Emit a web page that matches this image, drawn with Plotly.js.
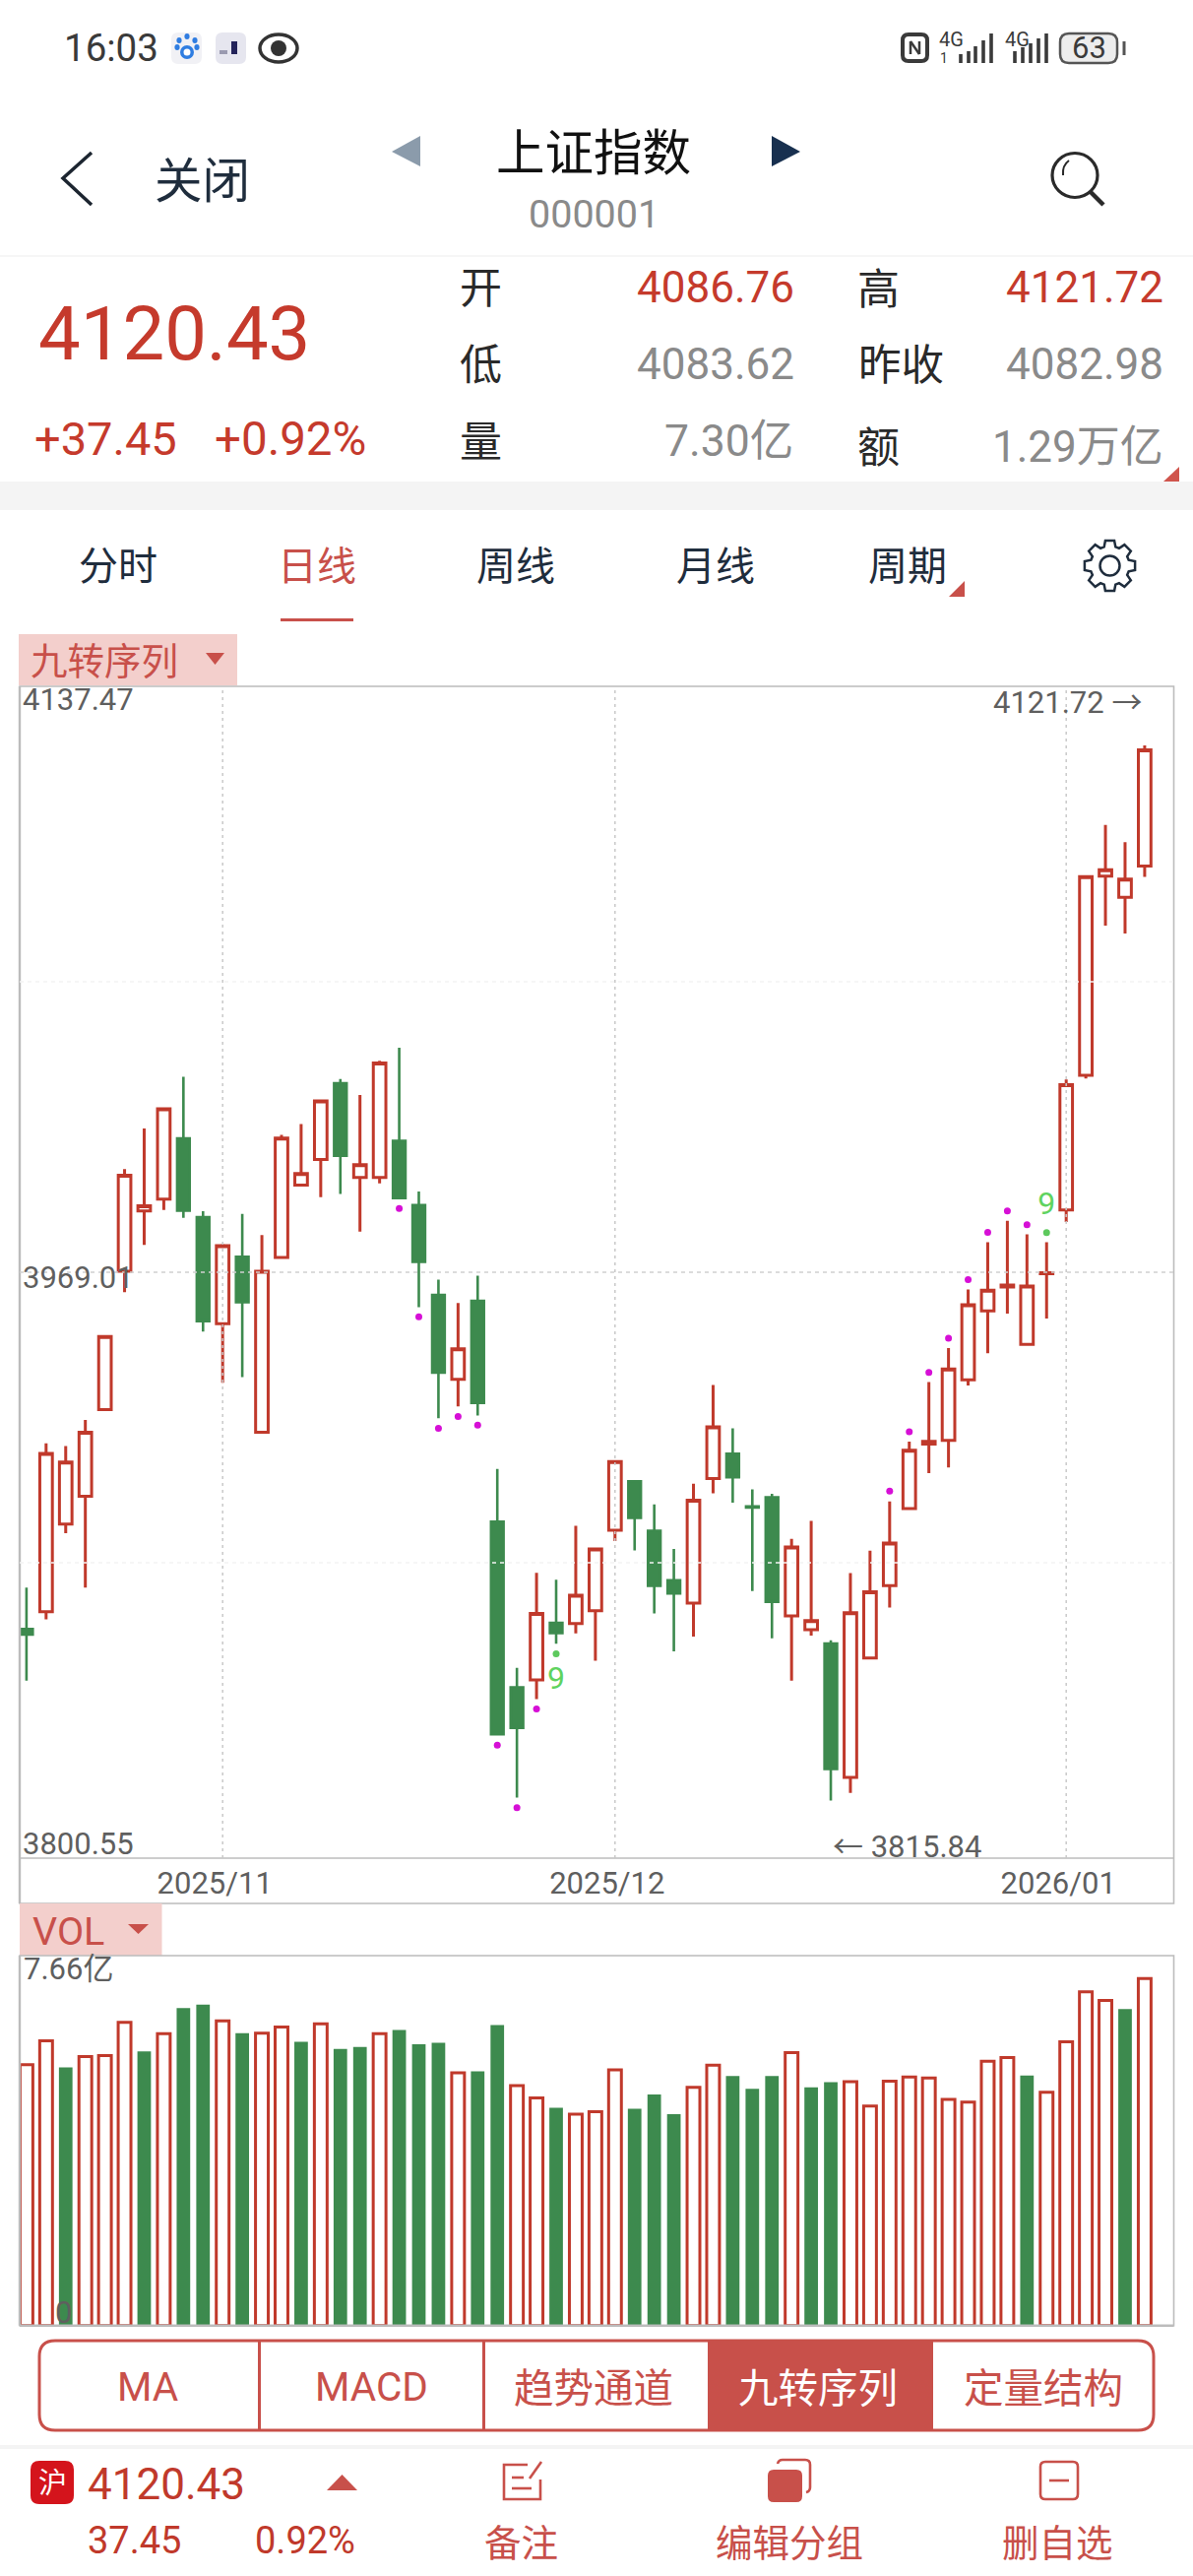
<!DOCTYPE html>
<html>
<head>
<meta charset="utf-8">
<script src="https://cdn.plot.ly/plotly-3.0.1.min.js"></script>
<style>html,body{margin:0;padding:0;background:#fff;overflow:hidden}#chart{width:1212px;height:2616px}</style>
</head>
<body>
<div id="chart"></div>
<script>
// ---------- data ----------
const dates = ["2025-10-20","2025-10-21","2025-10-22","2025-10-23","2025-10-24","2025-10-27","2025-10-28","2025-10-29","2025-10-30","2025-10-31",
"2025-11-03","2025-11-04","2025-11-05","2025-11-06","2025-11-07","2025-11-10","2025-11-11","2025-11-12","2025-11-13","2025-11-14",
"2025-11-17","2025-11-18","2025-11-19","2025-11-20","2025-11-21","2025-11-24","2025-11-25","2025-11-26","2025-11-27","2025-11-28",
"2025-12-01","2025-12-02","2025-12-03","2025-12-04","2025-12-05","2025-12-08","2025-12-09","2025-12-10","2025-12-11","2025-12-12",
"2025-12-15","2025-12-16","2025-12-17","2025-12-18","2025-12-19","2025-12-22","2025-12-23","2025-12-24","2025-12-25","2025-12-26",
"2025-12-29","2025-12-30","2025-12-31","2026-01-05","2026-01-06","2026-01-07","2026-01-08","2026-01-09"];
const opens = [3865.6,3870.6,3896.0,3904.1,3929.2,3969.3,3986.8,3990.2,4007.8,3985.0,
3954.1,3973.5,3922.6,3973.3,3994.3,4001.7,4023.8,3996.5,3996.5,4007.1,
3988.5,3962.4,3938.0,3960.7,3896.7,3848.7,3850.8,3867.4,3867.2,3870.9,
3894.2,3908.4,3894.1,3879.7,3873.1,3909.2,3916.4,3901.1,3903.8,3869.4,
3865.4,3861.4,3822.6,3857.2,3878.2,3900.5,3919.2,3920.3,3937.8,3957.8,
3964.7,3948.1,3968.6,3987.1,4026.1,4083.8,4077.7,4086.76];
const highs = [3877.6,3919.4,3918.6,3926.2,3950.4,3998.9,4010.7,4016.4,4025.7,3986.7,
3977.2,3985.9,3979.8,4008.8,4012.0,4018.9,4025.0,4020.4,4030.3,4034.1,
3992.4,3966.9,3960.1,3968.0,3912.0,3854.3,3881.9,3879.9,3895.5,3888.8,
3914.2,3908.5,3901.7,3888.8,3907.7,3936.3,3923.8,3906.1,3904.8,3891.7,
3896.9,3862.3,3881.8,3888.3,3902.6,3919.9,3937.2,3947.0,3964.0,3977.7,
3983.9,3980.0,3977.7,4024.9,4083.8,4098.7,4093.7,4121.72];
const lows = [3850.6,3868.4,3893.4,3877.6,3929.2,3963.2,3976.9,3987.1,3984.8,3951.8,
3937.0,3938.6,3922.5,3973.2,3994.1,3990.8,3991.7,3980.8,3994.8,3990.3,
3958.9,3926.7,3930.1,3927.5,3835.1,3816.7,3845.3,3861.3,3864.3,3856.4,
3891.1,3888.4,3870.1,3859.1,3863.4,3904.9,3902.2,3876.6,3862.9,3850.6,
3863.7,3815.84,3818.1,3856.9,3871.8,3900.4,3910.8,3912.4,3936.2,3945.5,
3957.0,3948.0,3955.6,3983.6,4025.2,4069.5,4067.2,4083.62];
const closes = [3864.0,3916.5,3914.0,3922.6,3950.4,3997.1,3988.3,4016.4,3986.9,3954.8,
3976.7,3960.3,3969.3,4007.9,3997.6,4018.7,4002.8,4000.2,4029.7,3990.5,
3972.0,3939.9,3946.8,3931.1,3835.1,3836.9,3870.1,3864.4,3875.4,3888.8,
3914.1,3897.8,3878.1,3875.9,3902.9,3924.2,3909.6,3900.8,3873.5,3889.4,
3868.0,3825.0,3870.3,3876.4,3890.5,3917.4,3920.0,3941.0,3959.6,3963.8,
3965.3,3965.0,3968.9,4023.4,4083.7,4085.7,4082.98,4120.43];
// volume, in units of 亿
const volumes = [5.49,5.99,5.43,5.66,5.68,6.38,5.77,6.14,6.68,6.75,
6.41,6.15,6.15,6.28,5.97,6.35,5.82,5.86,6.14,6.22,
5.92,5.95,5.32,5.35,6.32,5.05,4.79,4.58,4.45,4.50,
5.38,4.56,4.86,4.45,5.01,5.48,5.25,4.98,5.25,5.74,
5.01,5.12,5.13,4.62,5.14,5.23,5.21,4.76,4.70,5.56,
5.64,5.26,4.91,5.97,7.02,6.84,6.66,7.30];
const volumeUp = [1,1,0,1,1,1,0,1,0,0, 1,0,1,1,0,1,0,0,1,0, 0,0,1,0,0,1,1,0,1,1,
1,0,0,0,1,1,0,0,0,1, 0,0,1,1,1,1,1,1,1,1, 1,0,1,1,1,1,0,1];
// nine-turn sequence dots
const dotDates = ["2025-11-14","2025-11-17","2025-11-18","2025-11-19","2025-11-20","2025-11-21","2025-11-24","2025-11-25",
"2025-12-19","2025-12-22","2025-12-23","2025-12-24","2025-12-25","2025-12-26","2025-12-29","2025-12-30"];
const dotValues = [3987.5,3956.1,3923.8,3927.2,3924.7,3831.9,3813.8,3842.4,
3905.6,3922.8,3940.0,3949.9,3966.9,3980.6,3986.8,3982.8];
const nineDates = ["2025-11-26","2025-12-31"];
const nineDotValues = [3858.4,3980.5];
const nineLabelValues = [3850.5,3988.0];
const nineLabels = ["9","9"];
const monthTickDates = ["2025-11-03","2025-12-01","2026-01-05"];
const monthTickLabels = ["2025/11","2025/12","2026/01"];
const priceTickValues = [4137.47,3969.01,3800.55];
const priceTickLabels = ["4137.47","3969.01","3800.55"];
const priceFaintValues = [4053.24,3884.78];
const volumeTickValues = [7.66,0];
const volumeTickLabels = ["7.66亿","0"];

// ---------- styles / page geometry ----------
const W=1212,H=2616;
const RED='#c0392b', SOFT='#c8504a', GREEN='#3d8a4e', NAVY='#1f2d3d', GREY='#8a8a8a', AXIS='#5f5f5f', FRAME='#bcbcbc';
const NUM='Roboto, "Noto Sans CJK SC", sans-serif', CJK='"Noto Sans CJK SC", sans-serif';
const fx=x=>x/W, fy=y=>1-y/H;
const PL=20,PR=1192.5,MT=697,MB=1887,AB=1933,VT=1986,VB=2361.7;
const pitch=19.93, x0=26.9;
const xRange=[(PL-x0)/pitch,(PR-x0)/pitch];

const shapes=[], anns=[];
const T=(text,x,y,size,color,anchor,family,extra)=>anns.push(Object.assign({text,x:fx(x),y:fy(y),xref:'paper',yref:'paper',
  xanchor:anchor||'center',yanchor:'middle',showarrow:false,borderpad:0,font:{size,color,family:family||NUM}},extra||{}));
const R=(x1,y1,x2,y2,fill,line,lw)=>shapes.push({type:'rect',xref:'paper',yref:'paper',x0:fx(x1),x1:fx(x2),y0:fy(y1),y1:fy(y2),
  fillcolor:fill||'rgba(0,0,0,0)',line:{color:line||'rgba(0,0,0,0)',width:lw||0}});
const L=(x1,y1,x2,y2,color,w,dash)=>shapes.push({type:'line',xref:'paper',yref:'paper',x0:fx(x1),x1:fx(x2),y0:fy(y1),y1:fy(y2),line:{color,width:w,dash:dash||'solid'}});
const C=(cx,cy,rx,ry,fill,line,lw)=>shapes.push({type:'circle',xref:'paper',yref:'paper',x0:fx(cx-rx),x1:fx(cx+rx),y0:fy(cy-ry),y1:fy(cy+ry),
  fillcolor:fill||'rgba(0,0,0,0)',line:{color:line||'rgba(0,0,0,0)',width:lw||0}});
const PATH=(d,fill,line,lw)=>shapes.push({type:'path',xref:'paper',yref:'paper',path:d,fillcolor:fill||'rgba(0,0,0,0)',line:{color:line||'rgba(0,0,0,0)',width:lw||0}});
const P=(x,y)=>fx(x)+','+fy(y);
const poly=(pts,close)=>'M'+pts.map(p=>P(p[0],p[1])).join('L')+(close?'Z':'');
const rr=(x1,y1,x2,y2,r)=>'M'+P(x1+r,y1)+'L'+P(x2-r,y1)+'Q'+P(x2,y1)+' '+P(x2,y1+r)+'L'+P(x2,y2-r)+'Q'+P(x2,y2)+' '+P(x2-r,y2)+'L'+P(x1+r,y2)+'Q'+P(x1,y2)+' '+P(x1,y2-r)+'L'+P(x1,y1+r)+'Q'+P(x1,y1)+' '+P(x1+r,y1)+'Z';

// status bar
T('16:03',64,49,38.5,'#3a3a3a','left');
PATH(rr(174,33,205,65,7),'#f1f1f5');
[[182,41],[190,37],[198,41],[180,48],[200,48]].forEach(p=>C(p[0],p[1],2.6,3,'#2f7de1'));
C(190,53,7,7,'#2f7de1');C(190,53,3.5,3.5,'#ffffff');
PATH(rr(219,33,250,65,7),'#e6e6ef');R(223,51,231,55,'#9a9ab0');R(235,42,241,55,'#23235a');
C(283,49,19,14,'#fff','#333',3.5);C(283,49,8,8,'#333');
PATH(rr(917,35,942,62,6),null,'#3a3a3a',4);L(925,42,925,55,'#3a3a3a',2.5);L(934,42,934,55,'#3a3a3a',2.5);L(925,42,934,55,'#3a3a3a',2.5);
T('4G',966,40,20,'#3a3a3a');T('1',959,59,14,'#3a3a3a');
[[976,55],[984,52],[991,47],[999,41],[1007,34]].forEach(b=>L(b[0],b[1],b[0],64,'#3a3a3a',3.6));
T('4G',1033,40,20,'#3a3a3a');
[[1031,52],[1039,48],[1047,44],[1055,39],[1063,34]].forEach(b=>L(b[0],b[1],b[0],64,'#3a3a3a',3.6));
PATH(rr(1077,34,1135,64,9),'#ededed','#555',2.5);L(1142,42,1142,56,'#555',3);
T('63',1106,49,31,'#3a3a3a');

// navigation header
PATH(poly([[93,155],[64,181],[93,208]]),null,'#1c2530',3.5);
T('关闭',205,180,48.5,NAVY,'center',CJK);
PATH(poly([[398,154],[427,138],[427,169]],true),'#8b9bab');
T('上证指数',603,151,49.5,'#111','center',CJK);
PATH(poly([[784,138],[813,154],[784,169]],true),'#18304f');
T('000001',603,217,39.5,GREY);
C(1092,178,23,22.5,null,'#2a2a2a',3.2);L(1108,195,1121,208,'#2a2a2a',4.5);
PATH('M'+P(1080,178)+'Q'+P(1079,168)+' '+P(1086,163),null,'#2a2a2a',2);
L(0,260,W,260,'#f3f3f3',1.5);

// quote block
T('4120.43',38,339,76,'#c53a2c','left');
T('+37.45',34,446,47,'#c53a2c','left');
T('+0.92%',217,446,47.5,'#c53a2c','left');
[['开',289],['低',367],['量',445]].forEach(r=>T(r[0],488,r[1],43,'#2a2a2a','center',CJK));
T('4086.76',808,292,44,'#c53a2c','right');
T('4083.62',808,370,44,GREY,'right');
T('7.30亿',807,448,44.5,GREY,'right');
T('高',893,290,43,'#2a2a2a','center',CJK);
T('昨收',915,368,43.5,'#2a2a2a','center',CJK);
T('额',893,451,43,'#2a2a2a','center',CJK);
T('4121.72',1183,292,44,'#c53a2c','right');
T('4082.98',1183,370,44,GREY,'right');
T('1.29万亿',1183,454,44,GREY,'right');
R(0,489,W,518,'#f4f4f4');
PATH(poly([[1198,474],[1198,489],[1182,489]],true),'#d0554d');

// period tabs
[['分时',120,NAVY],['日线',322,SOFT],['周线',524,NAVY],['月线',727,NAVY],['周期',922,NAVY]].forEach(t=>T(t[0],t[1],572,40,t[2],'center',CJK));
L(285,629.5,359,629.5,SOFT,3);
PATH(poly([[980,590],[980,606],[964,606]],true),SOFT);
(function(){const cx=1127.5,cy=574.5,n=8,pts=[];for(let i=0;i<n;i++){const a=i/n*2*Math.PI,s=Math.PI/n;
  pts.push([cx+26*Math.cos(a-s*0.45),cy+26*Math.sin(a-s*0.45)],[cx+26*Math.cos(a+s*0.45),cy+26*Math.sin(a+s*0.45)],[cx+20*Math.cos(a+s*0.75),cy+20*Math.sin(a+s*0.75)],[cx+20*Math.cos(a+s*1.25),cy+20*Math.sin(a+s*1.25)]);}
  PATH(poly(pts,true),null,NAVY,2.5);C(cx,cy,10,10,null,NAVY,2.5);})();

// indicator tag
R(19,644,241,696,'#f3cfcc');
T('九转序列',106,668,37.5,SOFT,'center',CJK);
PATH(poly([[209,663],[228,663],[218.5,675]],true),SOFT);

// price pane frame and overlay grid
R(PL,MT,PR,AB,null,FRAME,1.6);
L(PL,MB,PR,MB,FRAME,1.6);
L(PL,MT,PL,AB,FRAME,2.4);
monthTickDates.forEach(d=>shapes.push({type:'line',xref:'x',yref:'paper',x0:d,x1:d,y0:fy(MB),y1:fy(MT),line:{color:'#c9c9c9',width:1.5,dash:'3px,4px'}}));
shapes.push({type:'line',xref:'paper',yref:'y',x0:fx(PL),x1:fx(PR),y0:priceTickValues[1],y1:priceTickValues[1],line:{color:'#cfcfcf',width:1.5,dash:'4px,4px'}});
priceFaintValues.forEach(v=>shapes.push({type:'line',xref:'paper',yref:'y',x0:fx(PL),x1:fx(PR),y0:v,y1:v,line:{color:'#f3f3f3',width:1.5,dash:'4px,4px'}}));

// price labels
const priceShift=[-9,-5,10];
priceTickLabels.forEach((t,i)=>anns.push({text:t,xref:'paper',yref:'y',x:fx(22),y:priceTickValues[i],yshift:priceShift[i],xanchor:'left',yanchor:'middle',showarrow:false,borderpad:0,font:{size:31,color:AXIS,family:NUM}}));
T('4121.72 →',1161,713,31,AXIS,'right');
T('← 3815.84',845,1875,31,AXIS,'left');

// volume pane
R(20,1933,164.5,VT,'#f3cfcc');
T('VOL',32,1961,39.5,SOFT,'left');
PATH(poly([[130,1954],[151,1954],[140.5,1964]],true),SOFT);
R(PL,VT,PR,VB,null,FRAME,1.6);
L(PL,VT,PL,VB,FRAME,2.4);L(PL,VB,PR,VB,FRAME,2.6);
const volShift=[-8,13.7], volX=[23,55];
volumeTickLabels.forEach((t,i)=>anns.push({text:t,xref:'paper',yref:'y2',x:fx(volX[i]),y:volumeTickValues[i],yshift:volShift[i],xanchor:'left',yanchor:'middle',showarrow:false,borderpad:0,font:{size:31,color:AXIS,family:NUM}}));

// indicator button bar
PATH('M'+P(719,2377)+'L'+P(948,2377)+'L'+P(948,2468)+'L'+P(719,2468)+'Z',SOFT);
PATH(rr(40,2377,1172,2468,16),null,SOFT,3);
L(263.5,2377,263.5,2468,SOFT,3);L(491.5,2377,491.5,2468,SOFT,3);
[['MA',150,SOFT,NUM,2424],['MACD',377,SOFT,NUM,2424],['趋势通道',603,SOFT,CJK,2422],['九转序列',830.5,'#ffffff',CJK,2422],['定量结构',1060,SOFT,CJK,2422]].forEach(b=>T(b[0],b[1],b[4],40.5,b[2],'center',b[3]));
R(0,2483,W,2487,'#f4f4f4');

// footer
PATH(rr(31,2499,75,2543,9),'#d4141c');
T('沪',53,2519,29,'#fff','center',CJK);
T('4120.43',88,2523,44,RED,'left');
PATH(poly([[347.5,2513],[363,2529],[332,2529]],true),SOFT);
T('37.45',88,2580,38,RED,'left');
T('0.92%',258,2580,38,RED,'left');
// note icon
PATH('M'+P(536,2503)+'L'+P(512,2503)+'L'+P(512,2538)+'L'+P(549,2538)+'L'+P(549,2518),null,SOFT,2.6);
L(538,2517,550,2500,SOFT,2.6);L(520,2516,532,2516,SOFT,2.6);L(520,2527,540,2527,SOFT,2.6);
T('备注',529,2579,37.5,SOFT,'center',CJK);
// group icon
PATH('M'+P(790,2502)+'Q'+P(791,2498)+' '+P(795,2498)+'L'+P(818,2498)+'Q'+P(823,2498)+' '+P(823,2503)+'L'+P(823,2526)+'Q'+P(823,2530)+' '+P(819,2531),null,SOFT,2.6);
PATH(rr(780,2508,815,2541,6),SOFT);
T('编辑分组',801.5,2579,37.5,SOFT,'center',CJK);
// remove icon
PATH(rr(1057,2500,1095,2538,5),null,SOFT,2.6);L(1066,2519,1086,2519,SOFT,2.6);
T('删自选',1074,2579,37.5,SOFT,'center',CJK);

// ---------- traces ----------
const upDates=dates.filter((d,i)=>volumeUp[i]), upVol=volumes.filter((v,i)=>volumeUp[i]);
const downDates=dates.filter((d,i)=>!volumeUp[i]), downVol=volumes.filter((v,i)=>!volumeUp[i]);
const traces=[
 {type:'candlestick',x:dates,open:opens,high:highs,low:lows,close:closes,xaxis:'x',yaxis:'y',whiskerwidth:0,
  increasing:{line:{color:RED,width:3},fillcolor:'#ffffff'},
  decreasing:{line:{color:GREEN,width:2.6},fillcolor:GREEN},hoverinfo:'skip'},
 {type:'scatter',mode:'markers',x:dotDates,y:dotValues,xaxis:'x',yaxis:'y',marker:{color:'#d60fd6',size:7},hoverinfo:'skip'},
 {type:'scatter',mode:'markers',x:nineDates,y:nineDotValues,xaxis:'x',yaxis:'y',marker:{color:'#5dc95d',size:7},hoverinfo:'skip'},
 {type:'scatter',mode:'text',x:nineDates,y:nineLabelValues,text:nineLabels,textposition:'middle center',xaxis:'x',yaxis:'y',textfont:{size:32,color:'#5fd35f',family:NUM},hoverinfo:'skip'},
 {type:'bar',x:upDates,y:upVol,xaxis:'x2',yaxis:'y2',width:0.65,marker:{color:'#ffffff',line:{color:RED,width:3}},hoverinfo:'skip'},
 {type:'bar',x:downDates,y:downVol,xaxis:'x2',yaxis:'y2',width:0.69,marker:{color:GREEN,line:{width:0}},hoverinfo:'skip'}
];
const layout={
 width:W,height:H,margin:{l:0,r:0,t:0,b:0},paper_bgcolor:'#fff',plot_bgcolor:'#fff',showlegend:false,
 barmode:'overlay',boxgap:0.36,boxgroupgap:0,dragmode:false,
 xaxis:{type:'category',categoryorder:'array',categoryarray:dates,domain:[fx(PL),fx(PR)],range:xRange,anchor:'y',
   rangeslider:{visible:false},showgrid:false,zeroline:false,showline:false,ticks:'',
   tickmode:'array',tickvals:monthTickDates,ticktext:monthTickLabels,ticklabelshift:-8,ticklabelstandoff:4,
   tickangle:0,tickfont:{size:31,color:AXIS,family:NUM}},
 yaxis:{domain:[fy(MB),fy(MT)],range:[3799.17,4138.85],anchor:'x',showgrid:false,zeroline:false,showline:false,ticks:'',showticklabels:false},
 xaxis2:{type:'category',categoryorder:'array',categoryarray:dates,domain:[fx(PL),fx(PR)],range:xRange,anchor:'y2',showgrid:false,zeroline:false,showline:false,ticks:'',showticklabels:false},
 yaxis2:{domain:[fy(VB),fy(VT)],range:[0,7.783],anchor:'x2',showgrid:false,zeroline:false,showline:false,ticks:'',showticklabels:false},
 shapes:shapes,annotations:anns
};
Plotly.newPlot('chart',traces,layout,{displayModeBar:false,staticPlot:true});
</script>
</body>
</html>
